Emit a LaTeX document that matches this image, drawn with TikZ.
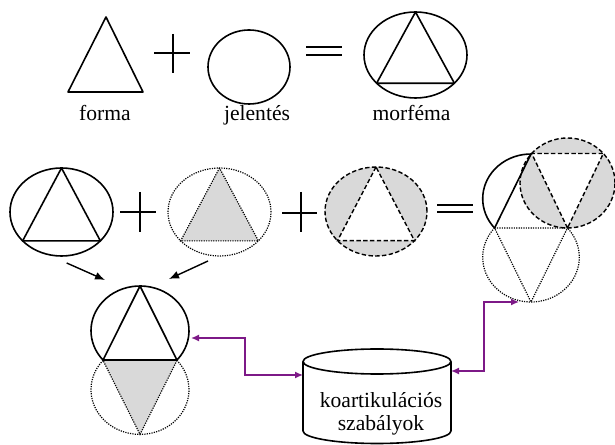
\documentclass[tikz,border=0pt]{standalone}
\usepackage{fontspec}
\setmainfont{Liberation Serif}
\usetikzlibrary{arrows.meta,calc}
\definecolor{fillgray}{RGB}{217,217,217}
\definecolor{rulepurple}{RGB}{125,25,135}

\begin{document}
\begin{tikzpicture}[x=0.5pt, y=0.5pt,
    solidline/.style={line width=0.8pt, line join=round},
    dotline/.style={line width=0.6pt, dash pattern=on 0.6pt off 0.6pt},
    dashline/.style={line width=0.7pt, dash pattern=on 2.2pt off 1.2pt},
    sign/.style={line width=0.7pt},
    wordlabel/.style={font=\fontsize{10.8}{11.5}\selectfont},
    link/.style={rulepurple, line width=0.7pt, {Latex[length=4pt,width=3.5pt]}-{Latex[length=4pt,width=3.5pt]}},
    feed/.style={line width=0.7pt, -{Latex[length=5pt,width=4pt]}}]
    \useasboundingbox (0,0) rectangle (615,444);

    % Top row: forma + jelentes = morfema
    \draw[solidline] (106,427) -- (143,352) -- (68,352) -- cycle;
    \draw[sign] (154,391) -- (190,391) (173,410) -- (173,371);
    \draw[solidline] (249,377) ellipse (41 and 37);
    \draw[sign] (306,397) -- (342,397) (306,389) -- (342,389);
    \begin{scope}[shift={(415.5,389)}]
        \draw[solidline] (0,0) ellipse (51.5 and 43);
        \draw[solidline] (90:51.5 and 43) -- (221:51.5 and 43) -- (319:51.5 and 43) -- cycle;
    \end{scope}

    % Labels
    \node[wordlabel, anchor=base] (forma) at (105,323) {forma};
    \node[wordlabel, anchor=base] (jelentes) at (257,323) {jelentés};
    \node[wordlabel, anchor=base] (morfema) at (411.5,323) {morféma};

    % Second row
    \begin{scope}[shift={(61.5,232)}]
        \draw[solidline] (0,0) ellipse (51.5 and 44);
        \draw[solidline] (90:51.5 and 44) -- (221:51.5 and 44) -- (319:51.5 and 44) -- cycle;
    \end{scope}
    \draw[sign] (120,232) -- (156,232) (140,252) -- (140,212);
    \begin{scope}[shift={(219.5,232)}]
        \fill[fillgray] (90:51.5 and 44) -- (221:51.5 and 44) -- (319:51.5 and 44) -- cycle;
        \draw[dotline] (0,0) ellipse (51.5 and 44);
        \draw[dotline] (90:51.5 and 44) -- (221:51.5 and 44) -- (319:51.5 and 44) -- cycle;
    \end{scope}
    \draw[sign] (282,231) -- (317,231) (301,252) -- (301,212);
    \begin{scope}[shift={(376,232.5)}]
        \fill[fillgray] (0,0) ellipse (51 and 44.5);
        \fill[white] (90:51 and 44.5) -- (221:51 and 44.5) -- (319:51 and 44.5) -- cycle;
        \draw[dashline] (0,0) ellipse (51 and 44.5);
        \draw[dashline] (90:51 and 44.5) -- (221:51 and 44.5) -- (319:51 and 44.5) -- cycle;
    \end{scope}
    \draw[sign] (437,239) -- (473,239) (437,232) -- (473,232);

    % Right composite
    \begin{scope}[shift={(531,245.3)}]
        \draw[solidline] (-41:48.3 and 44.7) arc[start angle=-41, end angle=221, x radius=48.3, y radius=44.7];
    \end{scope}
    \begin{scope}[shift={(567.5,261)}]
        \fill[fillgray] (0,0) ellipse (47.5 and 45);
        \fill[white] (270:47.5 and 45) -- (139:47.5 and 45) -- (41:47.5 and 45) -- cycle;
        \draw[dashline] (0,0) ellipse (47.5 and 45);
        \draw[dashline] (270:47.5 and 45) -- (139:47.5 and 45) -- (41:47.5 and 45) -- cycle;
    \end{scope}
    \begin{scope}[shift={(531,245.3)}]
        \draw[solidline] (221:48.3 and 44.7) -- (90:48.3 and 44.7);
    \end{scope}
    \begin{scope}[shift={(531,186.7)}]
        \draw[dotline] (139:48.3 and 44.7) arc[start angle=139, end angle=401, x radius=48.3, y radius=44.7];
        \draw[dotline] (139:48.3 and 44.7) -- (41:48.3 and 44.7) -- (270:48.3 and 44.7) -- cycle;
    \end{scope}

    % Bottom left composite
    \begin{scope}[shift={(140,54.3)}]
        \fill[fillgray] (139:49 and 44.7) -- (41:49 and 44.7) -- (270:49 and 44.7) -- cycle;
        \draw[dotline] (139:49 and 44.7) arc[start angle=139, end angle=401, x radius=49, y radius=44.7];
        \draw[dotline] (41:49 and 44.7) -- (270:49 and 44.7) -- (139:49 and 44.7);
    \end{scope}
    \begin{scope}[shift={(140,113.3)}]
        \draw[solidline] (-41:49 and 44.7) arc[start angle=-41, end angle=221, x radius=49, y radius=44.7];
        \draw[solidline] (90:49 and 44.7) -- (221:49 and 44.7) -- (319:49 and 44.7) -- cycle;
    \end{scope}

    % Rules store
    \draw[solidline] (303,82.5) -- (303,13) arc[start angle=180, end angle=360, x radius=74, y radius=12.5] -- (451,82.5);
    \draw[solidline] (377,82.5) ellipse (74 and 12.5);
    \node[wordlabel, align=center] (rules) at (381,30) {koartikulációs\\szabályok};

    % Arrows
    \coordinate (fromleft) at (66.7,181);
    \coordinate (fromdot) at (208,183);
    \coordinate (intoleft) at (105,164);
    \coordinate (intoright) at (169,165);
    \draw[feed] (fromleft) -- (intoleft);
    \draw[feed] (fromdot) -- (intoright);

    \coordinate (rulesW) at (303,69);
    \coordinate (rulesE) at (451,73);
    \coordinate (lowfig) at (191,106);
    \coordinate (rightfig) at (519,142);
    \draw[link] (rulesW) -- ++(-58,0) |- (lowfig);
    \draw[link] (rulesE) -- ++(33,0) |- (rightfig);
\end{tikzpicture}
\end{document}
